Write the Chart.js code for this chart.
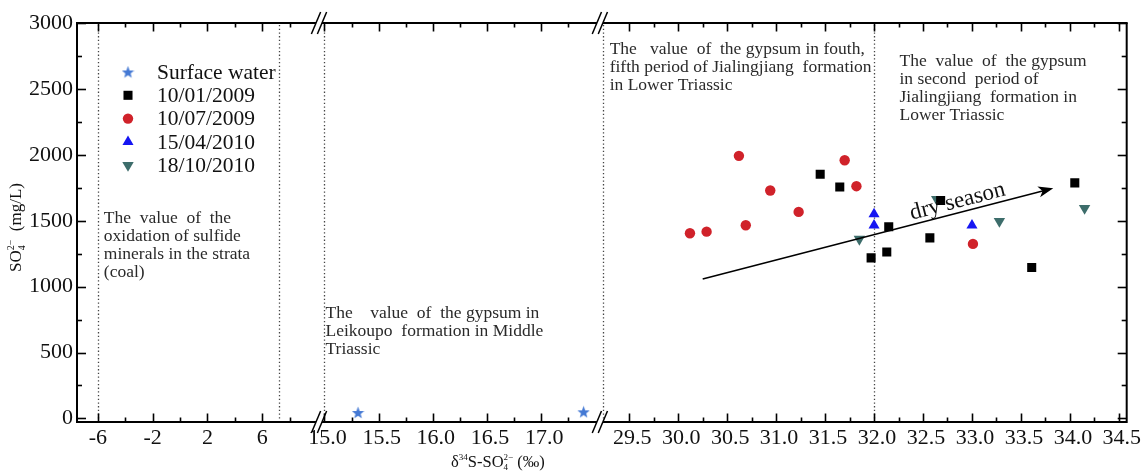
<!DOCTYPE html>
<html>
<head>
<meta charset="utf-8">
<script src="https://cdn.jsdelivr.net/npm/chart.js@4.4.1/dist/chart.umd.min.js"></script>
<style>
  html, body { margin: 0; padding: 0; background: #fff; }
  canvas { display: block; }
</style>
</head>
<body>
<canvas id="chart" width="1145" height="475"></canvas>
<script>
// broken x axis: three pieces, each with its own ticks
const seg1Ticks = [-6, -2, 2, 6];
const seg1Minor = [-4, 0, 4, 8];
const seg2Ticks = [15.0, 15.5, 16.0, 16.5, 17.0];
const seg2Minor = [15.25, 15.75, 16.25, 16.75, 17.25];
const seg3Ticks = [29.5, 30.0, 30.5, 31.0, 31.5, 32.0, 32.5, 33.0, 33.5, 34.0, 34.5];
const seg3Minor = [29.75, 30.25, 30.75, 31.25, 31.75, 32.25, 32.75, 33.25, 33.75, 34.25];
const yTicks = [0, 500, 1000, 1500, 2000, 2500, 3000];
const yMinor = [250, 750, 1250, 1750, 2250, 2750];

// region boundaries (dotted lines)
const boundSeg1 = [-6, 7.2];
const boundSeg2 = [15.0];
const boundSeg3 = [29.23, 32.0];

// series: d34S (x) and SO4 (y)
const surfaceX = [15.31, 17.39];
const surfaceY = [45, 50];
const jan2009X = [31.45, 31.65, 31.97, 32.13, 32.15, 32.57, 32.68, 33.61, 34.05];
const jan2009Y = [1853, 1756, 1218, 1263, 1455, 1370, 1653, 1145, 1787];
const jul2009X = [30.12, 30.29, 30.62, 30.69, 30.94, 31.23, 31.70, 31.82, 33.01];
const jul2009Y = [1405, 1417, 1992, 1466, 1729, 1567, 1959, 1762, 1324];
const apr2010X = [32.0, 32.0, 33.0];
const apr2010Y = [1550, 1465, 1465];
const oct2010X = [31.85, 32.64, 33.28, 34.15];
const oct2010Y = [1360, 1663, 1496, 1595];

// dry season trend arrow (start, end)
const dryX = [30.25, 33.83];
const dryY = [1058, 1747];

const SERIF = '"Liberation Serif", "DejaVu Serif", serif';
const pick = (xs, ys) => xs.map((x, i) => ({x, y: ys[i]}));

function starImage(color, size) {
  const c = document.createElement('canvas');
  c.width = c.height = size;
  const g = c.getContext('2d');
  const R = size / 2, r = R * 0.42;
  g.fillStyle = color;
  g.beginPath();
  for (let i = 0; i < 10; i++) {
    const a = -Math.PI / 2 + i * Math.PI / 5;
    const rr = i % 2 ? r : R;
    g.lineTo(R + rr * Math.cos(a), R + 0.6 + rr * Math.sin(a));
  }
  g.closePath();
  g.fill();
  return c;
}

const notes = [
  {axis: 'x1', x: -5.57, y: 1521, lines: ['The  value  of  the', 'oxidation of sulfide', 'minerals in the strata', '(coal)']},
  {axis: 'x2', x: 15.01, y: 800, lines: ['The    value  of  the gypsum in', 'Leikoupo  formation in Middle', 'Triassic']},
  {axis: 'x3', x: 29.30, y: 2803, lines: ['The   value  of  the gypsum in fouth,', 'fifth period of Jialingjiang  formation', 'in Lower Triassic']},
  {axis: 'x3', x: 32.26, y: 2712, lines: ['The  value  of  the gypsum', 'in second  period of', 'Jialingjiang  formation in', 'Lower Triassic']}
];

function drawRich(ctx, parts, x, y) {
  const widths = parts.map(p => { ctx.font = p.size + 'px ' + SERIF; return ctx.measureText(p.t).width; });
  const xs = [];
  let cur = 0, held = 0;
  parts.forEach((p, i) => {
    xs.push(cur);
    if (p.stack) held = Math.max(held, widths[i]);
    else { cur += Math.max(held, widths[i]); held = 0; }
  });
  const x0 = x - cur / 2;
  ctx.textAlign = 'left';
  ctx.textBaseline = 'middle';
  parts.forEach((p, i) => {
    ctx.font = p.size + 'px ' + SERIF;
    ctx.fillText(p.t, x0 + xs[i], y + (p.dy || 0));
  });
}

function line(ctx, x1, y1, x2, y2) {
  ctx.beginPath(); ctx.moveTo(x1, y1); ctx.lineTo(x2, y2); ctx.stroke();
}

const brokenAxis = {
  id: 'brokenAxis',
  beforeDatasetsDraw(chart) {
    const {ctx, chartArea: a, scales} = chart;
    ctx.save();
    ctx.strokeStyle = '#444';
    ctx.lineWidth = 1.3;
    ctx.setLineDash([1.3, 2.4]);
    [['x1', boundSeg1], ['x2', boundSeg2], ['x3', boundSeg3]].forEach(([id, vals]) => {
      vals.forEach(v => {
        const px = Math.round(scales[id].getPixelForValue(v)) + 0.5;
        line(ctx, px, a.top + 2, px, a.bottom - 2);
      });
    });
    ctx.setLineDash([]);

    // region notes
    ctx.fillStyle = '#2a2a2a';
    ctx.font = '17.5px ' + SERIF;
    ctx.textAlign = 'left';
    ctx.textBaseline = 'middle';
    notes.forEach(n => {
      const x = scales[n.axis].getPixelForValue(n.x);
      const y = scales.y.getPixelForValue(n.y);
      n.lines.forEach((t, i) => ctx.fillText(t, x, y + i * 18.3));
    });
    ctx.restore();
  },
  afterDatasetsDraw(chart) {
    const {ctx, chartArea: a, scales} = chart;
    ctx.save();
    // dry season arrow
    const x0 = scales.x3.getPixelForValue(dryX[0]), y0 = scales.y.getPixelForValue(dryY[0]);
    const x1 = scales.x3.getPixelForValue(dryX[1]), y1 = scales.y.getPixelForValue(dryY[1]);
    const ang = Math.atan2(y1 - y0, x1 - x0);
    ctx.strokeStyle = '#000';
    ctx.fillStyle = '#000';
    ctx.lineWidth = 1.5;
    line(ctx, x0, y0, x1 - 10 * Math.cos(ang), y1 - 10 * Math.sin(ang));
    ctx.save();
    ctx.translate(x1, y1);
    ctx.rotate(ang);
    ctx.beginPath();
    ctx.moveTo(0, 0); ctx.lineTo(-15, -5.5); ctx.lineTo(-11, 0); ctx.lineTo(-15, 5.5);
    ctx.closePath(); ctx.fill();
    ctx.restore();
    const t = 0.6;
    ctx.save();
    ctx.translate(x0 + (x1 - x0) * t, y0 + (y1 - y0) * t);
    ctx.rotate(ang);
    ctx.font = '23px ' + SERIF;
    ctx.textAlign = 'left';
    ctx.textBaseline = 'alphabetic';
    ctx.fillStyle = '#111';
    ctx.fillText('dry season', 0, -5);
    ctx.restore();

    // legend
    const draw = Chart.helpers.drawPoint;
    chart.data.datasets.forEach((ds, i) => {
      const ly = a.top + 49 + i * 23.3;
      ctx.fillStyle = ds.pointBackgroundColor;
      draw(ctx, {pointStyle: ds.pointStyle, rotation: ds.pointRotation || 0, radius: ds.pointRadius, borderWidth: 0}, a.left + 51, ly);
      ctx.fillStyle = '#111';
      ctx.font = '21.5px ' + SERIF;
      ctx.textAlign = 'left';
      ctx.textBaseline = 'middle';
      ctx.fillText(ds.label, a.left + 80, ly + 1);
    });
    ctx.restore();
  },
  afterDraw(chart) {
    const {ctx, chartArea: a, scales} = chart;
    ctx.save();
    ctx.strokeStyle = '#000';
    // top and right frame
    ctx.lineWidth = 2;
    line(ctx, a.left - 1, a.top, a.right + 1, a.top);
    line(ctx, a.right, a.top, a.right, a.bottom + 1);
    // inward tick marks on all four sides
    ctx.lineWidth = 1.6;
    [['x1', seg1Ticks, seg1Minor], ['x2', seg2Ticks, seg2Minor], ['x3', seg3Ticks, seg3Minor]].forEach(([id, major, minor]) => {
      const s = scales[id];
      [[major, 8.5], [minor, 4.5]].forEach(([vals, len]) => vals.forEach(v => {
        const px = Math.round(s.getPixelForValue(v)) + 0.5;
        line(ctx, px, a.bottom, px, a.bottom - len);
        line(ctx, px, a.top, px, a.top + len);
      }));
    });
    [[yTicks, 9], [yMinor, 5]].forEach(([vals, len]) => vals.forEach(v => {
      const py = Math.round(scales.y.getPixelForValue(v)) + 0.5;
      line(ctx, a.left, py, a.left + len, py);
      line(ctx, a.right, py, a.right - len, py);
    }));
    // axis breaks
    [scales.x2.left, scales.x3.left].forEach(bx => {
      [a.top, a.bottom].forEach(ay => {
        const k = 0.42;
        ctx.fillStyle = '#fff';
        ctx.beginPath();
        ctx.moveTo(bx - 3 + k * 3, ay - 3); ctx.lineTo(bx + 3 + k * 3, ay - 3);
        ctx.lineTo(bx + 3 - k * 3, ay + 3); ctx.lineTo(bx - 3 - k * 3, ay + 3);
        ctx.closePath(); ctx.fill();
        ctx.lineWidth = 1.5;
        [-3, 3].forEach(d => line(ctx, bx + d + k * 11, ay - 11, bx + d - k * 11, ay + 11));
      });
    });
    // axis titles
    ctx.fillStyle = '#111';
    drawRich(ctx, [
      {t: 'δ', size: 16.5}, {t: '34', size: 9, dy: -5}, {t: 'S-SO', size: 16.5},
      {t: '4', size: 9, dy: 5, stack: true}, {t: '2−', size: 9, dy: -5}, {t: ' (‰)', size: 16.5}
    ], scales.x2.getPixelForValue(16.6), a.bottom + 41);
    ctx.save();
    ctx.translate(17, (a.top + a.bottom) / 2 + 5);
    ctx.rotate(-Math.PI / 2);
    drawRich(ctx, [
      {t: 'SO', size: 17}, {t: '4', size: 10, dy: 5, stack: true}, {t: '2−', size: 10, dy: -6},
      {t: '  (mg/L)', size: 17}
    ], 0, 0);
    ctx.restore();
    ctx.restore();
  }
};

function xScale(min, max, weight, major, digits, shift) {
  return {
    type: 'linear', position: 'bottom', stack: 'xaxis', stackWeight: weight,
    min, max, bounds: 'data',
    afterBuildTicks: s => { s.ticks = major.map(v => ({value: v})); },
    afterFit: s => { s.height = 53; },
    grid: {display: false, drawTicks: false},
    border: {display: true, color: '#000', width: 2},
    ticks: {
      padding: 3, labelOffset: shift, autoSkip: false, maxRotation: 0, color: '#111',
      font: {family: SERIF, size: 22},
      callback: v => v.toFixed(digits)
    }
  };
}

const markStyle = (color, style, radius, rotation) => ({
  pointStyle: style, pointRadius: radius, pointRotation: rotation || 0,
  pointBackgroundColor: color, pointBorderColor: color, pointBorderWidth: 0,
  pointHoverRadius: radius, showLine: false
});

new Chart(document.getElementById('chart'), {
  type: 'scatter',
  data: {
    datasets: [
      {label: 'Surface water', data: pick(surfaceX, surfaceY), xAxisID: 'x2', yAxisID: 'y', ...markStyle('#4479d4', starImage('#4479d4', 13), 6.5)},
      {label: '10/01/2009', data: pick(jan2009X, jan2009Y), xAxisID: 'x3', yAxisID: 'y', ...markStyle('#000000', 'rect', 6.4)},
      {label: '10/07/2009', data: pick(jul2009X, jul2009Y), xAxisID: 'x3', yAxisID: 'y', ...markStyle('#d0222a', 'circle', 5.2)},
      {label: '15/04/2010', data: pick(apr2010X, apr2010Y), xAxisID: 'x3', yAxisID: 'y', ...markStyle('#1616f2', 'triangle', 6.4)},
      {label: '18/10/2010', data: pick(oct2010X, oct2010Y), xAxisID: 'x3', yAxisID: 'y', ...markStyle('#3d6d6b', 'triangle', 6.6, 180)}
    ]
  },
  options: {
    responsive: false,
    animation: false,
    layout: {padding: {left: 0, right: 14, top: 23, bottom: 0}},
    plugins: {legend: {display: false}, tooltip: {enabled: false}},
    scales: {
      x1: xScale(-7.53, 10.15, 243, seg1Ticks, 0, 0),
      x2: xScale(14.95, 17.54, 282, seg2Ticks, 1, 3),
      x3: xScale(29.2, 34.58, 529, seg3Ticks, 1, 3),
      y: {
        type: 'linear', position: 'left', min: -27, max: 3000, bounds: 'data',
        afterBuildTicks: s => { s.ticks = yTicks.map(v => ({value: v})); },
        afterFit: s => { s.width = 77; },
        grid: {display: false, drawTicks: false},
        border: {display: true, color: '#000', width: 2},
        ticks: {padding: 4, color: '#111', font: {family: SERIF, size: 22}, callback: v => String(v)}
      }
    }
  },
  plugins: [brokenAxis]
});
</script>
</body>
</html>
